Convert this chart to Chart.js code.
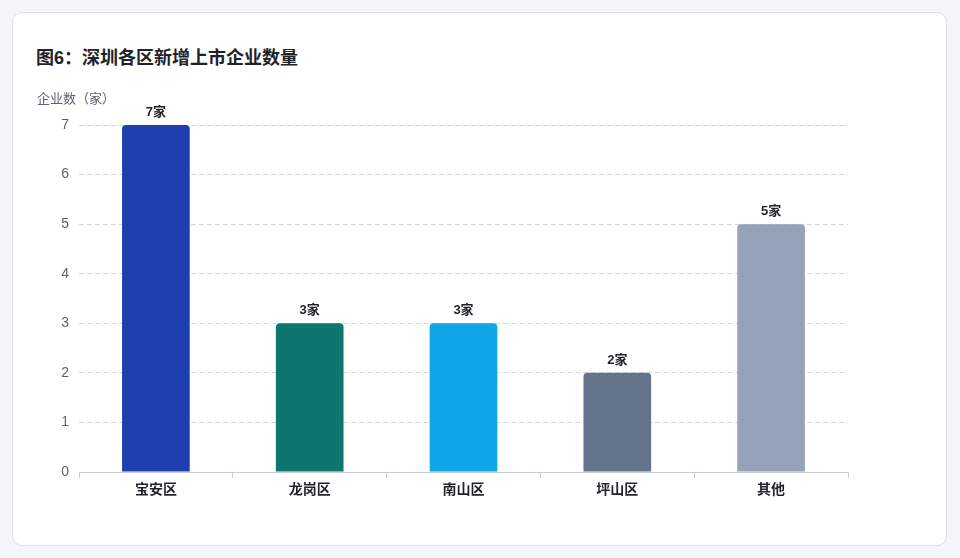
<!DOCTYPE html>
<html><head><meta charset="utf-8">
<script src="https://cdn.jsdelivr.net/npm/chart.js@4"></script>
<style>
html,body{margin:0;padding:0;background:#f5f6f8;width:960px;height:558px;overflow:hidden;font-family:"Liberation Sans","Noto Sans CJK SC",sans-serif;}
#card{position:absolute;left:12px;top:12px;width:933px;height:532px;background:#fff;border:1px solid #dcdfe6;border-radius:10px;}
#title{position:absolute;left:36px;top:43px;font-size:18px;font-weight:bold;color:#1f2329;}
#c{position:absolute;left:0;top:0;}
</style></head>
<body>
<div id="card"></div>
<div id="title">图6：深圳各区新增上市企业数量</div>
<canvas id="c" width="960" height="558"></canvas>
<script>
const categories = ["宝安区", "龙岗区", "南山区", "坪山区", "其他"];
const values = [7, 3, 3, 2, 5];
const barColors = ["#1e40af", "#0f766e", "#0ea5e9", "#64748b", "#94a3b8"];
const yTicks = [0, 1, 2, 3, 4, 5, 6, 7];
const unit = "家";
const yAxisTitle = "企业数（家）";
const FONT = '"Liberation Sans","Noto Sans CJK SC",sans-serif';

const labelPlugin = {
  id: 'labels',
  afterDatasetsDraw(chart) {
    const ctx = chart.ctx;
    const meta = chart.getDatasetMeta(0);
    ctx.save();
    ctx.font = 'bold 13px ' + FONT;
    ctx.fillStyle = '#1f2329';
    ctx.textAlign = 'center';
    ctx.textBaseline = 'bottom';
    meta.data.forEach((bar, i) => {
      ctx.fillText(values[i] + unit, bar.x, bar.y - 6);
    });
    ctx.font = '13px ' + FONT;
    ctx.fillStyle = '#5b6270';
    ctx.textAlign = 'left';
    ctx.textBaseline = 'middle';
    ctx.fillText(yAxisTitle, chart.chartArea.left - 42, chart.chartArea.top - 26);
    ctx.restore();
  }
};

new Chart(document.getElementById('c'), {
  type: 'bar',
  data: {
    labels: categories,
    datasets: [{
      data: values,
      backgroundColor: barColors,
      borderRadius: {topLeft: 4, topRight: 4, bottomLeft: 0, bottomRight: 0},
      borderSkipped: 'bottom',
      barPercentage: 0.44,
      categoryPercentage: 1
    }]
  },
  options: {
    responsive: false,
    animation: false,
    layout: {padding: {left: 40, right: 112, top: 125, bottom: 40}},
    plugins: {legend: {display: false}, tooltip: {enabled: false}, title: {display: false}},
    scales: {
      x: {
        afterFit(s) { s.height = 46; },
        grid: {display: true, drawOnChartArea: false, drawTicks: true, tickLength: 6, color: '#c9cdd6', offset: true},
        border: {display: true, color: '#c9cdd6', width: 1},
        ticks: {color: '#1f2329', font: {family: FONT, size: 14, weight: 'bold'}, padding: 4}
      },
      y: {
        min: 0, max: 7,
        afterFit(s) { s.width = 39; },
        afterBuildTicks(s) { s.ticks = yTicks.map(v => ({value: v})); },
        grid: {color: '#d3d6de', drawTicks: false},
        border: {display: false, dash: [5, 3]},
        ticks: {color: '#5b6270', font: {family: FONT, size: 14}, padding: 10}
      }
    }
  },
  plugins: [labelPlugin]
});
</script>
</body></html>
